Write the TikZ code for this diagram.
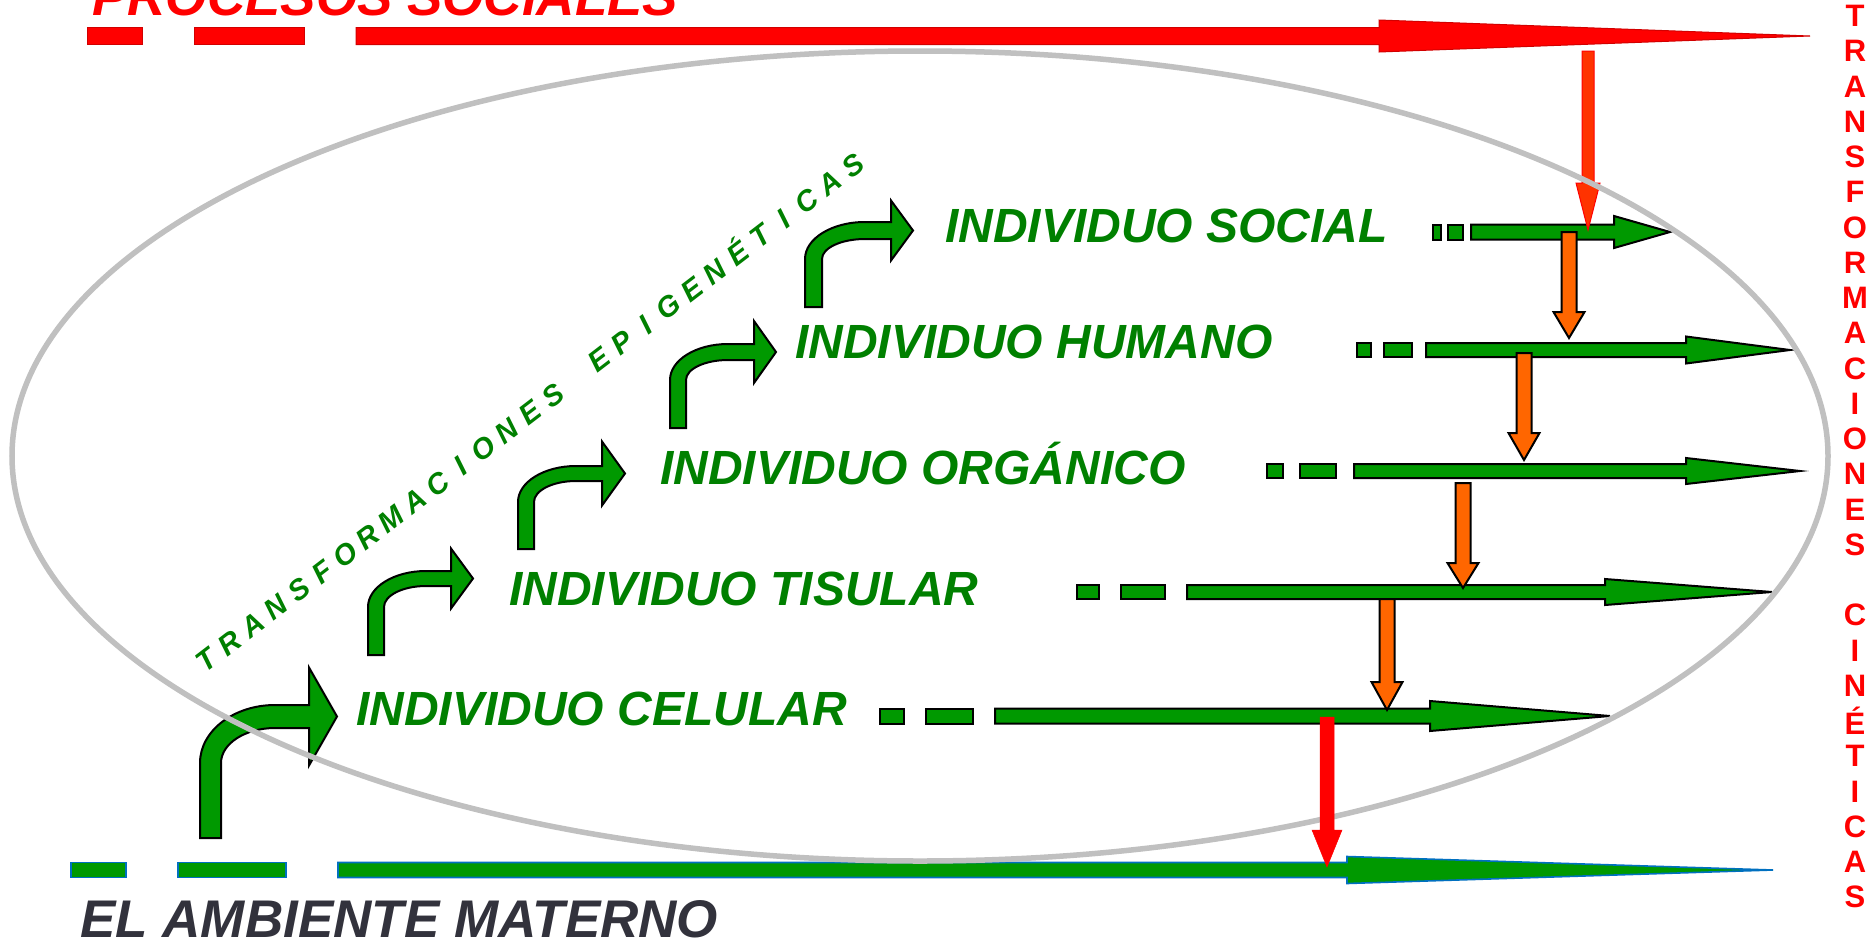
\documentclass[tikz,border=0pt]{standalone}
\usepackage{fontspec}
\setmainfont{Liberation Sans}
\definecolor{argreen}{RGB}{0,153,0}
\definecolor{txtgreen}{RGB}{0,128,0}
\definecolor{orng}{RGB}{255,102,0}
\definecolor{redor}{RGB}{255,51,0}
\definecolor{ellgray}{RGB}{192,192,192}
\definecolor{dkred}{RGB}{210,0,0}
\definecolor{bordblue}{RGB}{0,112,192}
\definecolor{dkgray}{RGB}{50,50,60}
\newcommand\myharr[7]{\draw[#1] (#2,{#5-#6}) -- (#3,{#5-#6}) -- (#3,{#5-#7}) -- (#4,#5) -- (#3,{#5+#7}) -- (#3,{#5+#6}) -- (#2,{#5+#6}) -- cycle;}
\newcommand\myhdash[5]{\draw[#1] (#2,{#4-#5}) rectangle (#3,{#4+#5});}
\newcommand\myvarr[7]{\draw[#1] ({#2-#6},#3) -- ({#2+#6},#3) -- ({#2+#6},#4) -- ({#2+#7},#4) -- (#2,#5) -- ({#2-#7},#4) -- ({#2-#6},#4) -- cycle;}
\begin{document}
\begin{tikzpicture}[x=1pt,y=-1pt,
  garrow/.style={fill=argreen,draw=black,line width=2pt,line join=miter},
  oarrow/.style={fill=orng,draw=black,line width=2pt,line join=miter},
  redtop/.style={fill=red,draw=dkred,line width=1pt},
  greenbot/.style={fill=argreen,draw=bordblue,line width=1.6pt},
  gtext/.style={anchor=base west,inner sep=0pt,text=txtgreen,font=\fontsize{48}{50}\selectfont\bfseries\itshape},
  bigtext/.style={anchor=base west,inner sep=0pt,font=\fontsize{53}{56}\selectfont\bfseries\itshape},
  vletter/.style={anchor=center,inner sep=0pt,text=red,font=\fontsize{31}{32}\selectfont\bfseries},
  dletter/.style={rotate=37.4,anchor=base,inner sep=0pt,text=txtgreen,font=\fontsize{29}{30}\selectfont\bfseries\itshape}]
\useasboundingbox (0,0) rectangle (1871,940);
\fill[white] (0,0) rectangle (1871,940);

% top red dashed arrow
\myhdash{redtop}{87}{142}{36}{8.5}
\myhdash{redtop}{194}{304}{36}{8.5}
\myharr{redtop}{356}{1379}{1810}{36}{8.5}{16}
\node[bigtext,text=red] (procesos) at (92,15) {PROCESOS SOCIALES};

% bottom green dashed arrow
\myhdash{greenbot}{71}{126}{870}{7.5}
\myhdash{greenbot}{178}{286}{870}{7.5}
\myharr{greenbot}{338}{1347}{1773}{870}{7.5}{13.5}
\node[bigtext,text=dkgray] (materno) at (80,937) {EL AMBIENTE MATERNO};

% rows of green dashed arrows
\foreach \y/\h/\da/\db/\dc/\dd/\s/\b/\t/\hh in {
  232/7.5/1433/1441/1448/1463/1471/1614/1670/16,
  350/7/1357/1371/1384/1412/1426/1686/1790/13.5,
  471/7/1267/1283/1300/1336/1354/1686/1800/13,
  592/7/1077/1099/1121/1165/1187/1605/1772/13,
  716/7.5/880/904/926/973/995/1430/1610/15}{
  \myhdash{garrow}{\da}{\db}{\y}{\h}
  \myhdash{garrow}{\dc}{\dd}{\y}{\h}
  \myharr{garrow}{\s}{\b}{\t}{\y}{\h}{\hh}
}

% bent arrows
\foreach \xl/\w/\yb/\yo/\t/\hb/\tp/\hh/\rx/\ry in {
  805/17/307/222/17/891/913/30/60/37,
  670/16/428/344/16/754/776/31/58/36,
  518/16/549/466/15/602/625/32/58/36,
  368/16/655/571/15/451/473/30/58/36,
  200/21/838/705/23/309/337/49/75/58}{
  \pgfmathsetmacro\ym{\yo+\t/2}
  \pgfmathsetmacro\rxi{\rx-\w}
  \pgfmathsetmacro\ryi{\ry-\t}
  \draw[garrow] (\xl,\yb) -- (\xl,{\yo+\ry})
    .. controls (\xl,{\yo+0.448*\ry}) and ({\xl+0.448*\rx},\yo) .. ({\xl+\rx},\yo)
    -- (\hb,\yo) -- (\hb,{\ym-\hh}) -- (\tp,\ym) -- (\hb,{\ym+\hh}) -- (\hb,{\yo+\t})
    -- ({\xl+\rx},{\yo+\t})
    .. controls ({\xl+\w+0.448*\rxi},{\yo+\t}) and ({\xl+\w},{\yo+\t+0.448*\ryi}) .. ({\xl+\w},{\yo+\ry})
    -- ({\xl+\w},\yb) -- cycle;
}

% texts of the rows
\node[gtext] (social) at (945,242) {INDIVIDUO SOCIAL};
\node[gtext] (humano) at (795,358) {INDIVIDUO HUMANO};
\node[gtext] (organico) at (660,484) {INDIVIDUO ORGÁNICO};
\node[gtext] (tisular) at (509,605) {INDIVIDUO TISULAR};
\node[gtext] (celular) at (356,725) {INDIVIDUO CELULAR};

% orange down arrows
\myvarr{oarrow}{1569}{232}{312}{338}{7.5}{15.5}
\myvarr{oarrow}{1524}{353}{433}{460}{7.5}{15.5}
\myvarr{oarrow}{1463}{483}{563}{588}{7.5}{15.5}
\myvarr{oarrow}{1387}{599}{682}{710}{7.5}{15.5}

% red arrow from social processes
\myvarr{fill=redor,draw=red,line width=1pt}{1588}{51}{183}{230}{6}{12}

% ellipse
\draw[ellgray,line width=5.5pt] (920,456) ellipse [x radius=908, y radius=405];

% red arrow to maternal environment
\myvarr{fill=red,draw=red,line width=0.5pt}{1327}{717}{830}{867}{7}{15}

% diagonal text, letter by letter
\foreach \ch [count=\i from 0] in {T,R,A,N,S,F,O,R,M,A,C,I,O,N,E,S,{},E,P,I,G,E,N,É,T,I,C,A,S}{
  \node[dletter] (d\i) at ({536+(\i-14)*23.1},{421-(\i-14)*17.67}) {\ch};
}

% vertical text
\foreach \ch [count=\i from 0] in {T,R,A,N,S,F,O,R,M,A,C,I,O,N,E,S,{},C,I,N,É,T,I,C,A,S}{
  \node[vletter] (v\i) at (1855,{16+35.25*\i}) {\ch};
}
\end{tikzpicture}
\end{document}
